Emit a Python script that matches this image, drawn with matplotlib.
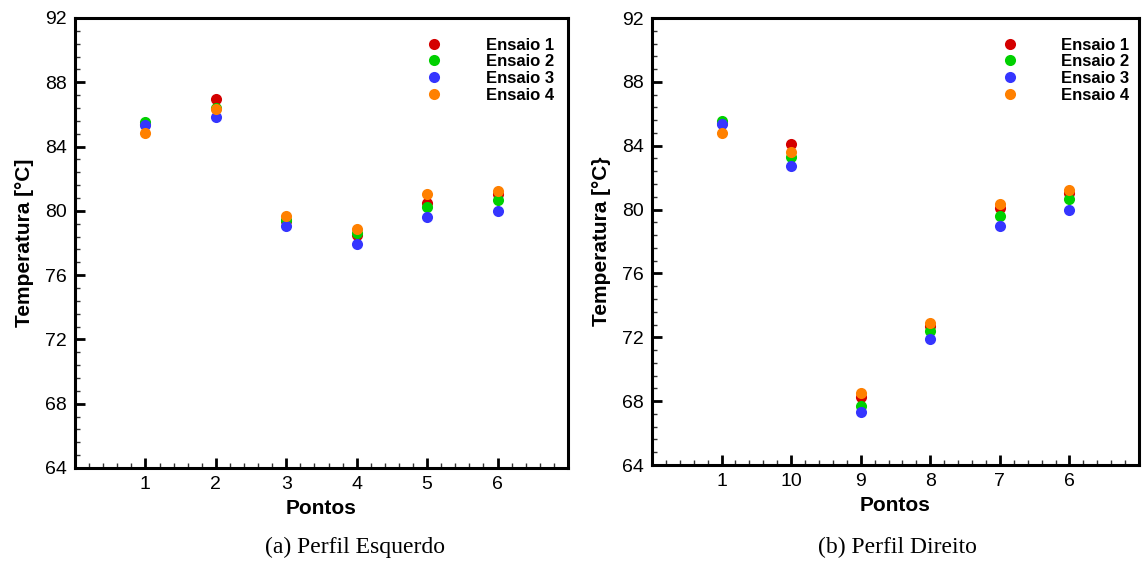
import numpy as np
import matplotlib.pyplot as plt
from matplotlib.ticker import MultipleLocator

plt.rcParams['font.family'] = ['Liberation Sans', 'DejaVu Sans']

# dados
pontos_pos = [1, 2, 3, 4, 5, 6]
rotulos_esq = ['1', '2', '3', '4', '5', '6']
rotulos_dir = ['1', '10', '9', '8', '7', '6']
ensaios = ['Ensaio 1', 'Ensaio 2', 'Ensaio 3', 'Ensaio 4']
cores = ['#d40000', '#00d000', '#3535ff', '#ff8000']

# perfil esquerdo
esq_e1 = [85.40, 86.96, 79.40, 78.50, 80.47, 81.05]
esq_e2 = [85.55, 86.42, 79.43, 78.60, 80.26, 80.70]
esq_e3 = [85.34, 85.82, 79.08, 77.92, 79.64, 80.00]
esq_e4 = [84.83, 86.32, 79.68, 78.87, 81.03, 81.25]

# perfil direito
dir_e1 = [85.40, 84.10, 68.23, 72.72, 80.08, 81.01]
dir_e2 = [85.55, 83.31, 67.69, 72.41, 79.61, 80.66]
dir_e3 = [85.34, 82.73, 67.31, 71.87, 78.97, 79.99]
dir_e4 = [84.78, 83.62, 68.48, 72.87, 80.33, 81.22]

fig = plt.figure(figsize=(11.42, 5.67), dpi=100)
W, H = 1142.0, 567.0
ax1 = fig.add_axes([75 / W, 1 - 468 / H, (568 - 75) / W, (468 - 18) / H])
ax2 = fig.add_axes([652 / W, 1 - 465 / H, (1139 - 652) / W, (465 - 18) / H])


def desenha(ax, series, rotulos, ylabel, legx):
    for vals, cor, nome in zip(series, cores, ensaios):
        ax.plot(pontos_pos, vals, 'o', color=cor, markersize=8,
                markeredgewidth=0, label=nome)
    ax.set_xlim(0, 7)
    ax.set_ylim(64, 92)
    ax.set_xticks(pontos_pos)
    ax.set_xticklabels(rotulos)
    ax.set_yticks(np.arange(64, 93, 4))
    ax.xaxis.set_minor_locator(MultipleLocator(0.2))
    ax.yaxis.set_minor_locator(MultipleLocator(0.8))
    ax.tick_params(which='major', direction='in', length=7, width=2,
                   labelsize=14, top=False, right=False, pad=6)
    ax.tick_params(which='minor', direction='in', length=3.5, width=1,
                   top=False, right=False, color='#333333')
    for s in ax.spines.values():
        s.set_linewidth(2.2)
    ax.set_xlabel('Pontos', fontsize=15, fontweight='bold', labelpad=4)
    ax.set_ylabel(ylabel, fontsize=15, fontweight='bold', labelpad=8)
    leg = ax.legend(loc='upper left', bbox_to_anchor=(legx, 0.975),
                    frameon=False, prop={'weight': 'bold', 'size': 12},
                    handletextpad=2.6, labelspacing=0.1, borderpad=0,
                    handlelength=1.0)
    return leg


desenha(ax1, [esq_e1, esq_e2, esq_e3, esq_e4], rotulos_esq,
        'Temperatura [°C]', 0.695)
desenha(ax2, [dir_e1, dir_e2, dir_e3, dir_e4], rotulos_dir,
        'Temperatura [°C}', 0.70)

fig.text(355 / W, 1 - 547 / H, '(a) Perfil Esquerdo', ha='center', va='center',
         fontsize=17, family='Liberation Serif')
fig.text(897 / W, 1 - 547 / H, '(b) Perfil Direito', ha='center', va='center',
         fontsize=17, family='Liberation Serif')

fig.savefig('out.png', dpi=100)
